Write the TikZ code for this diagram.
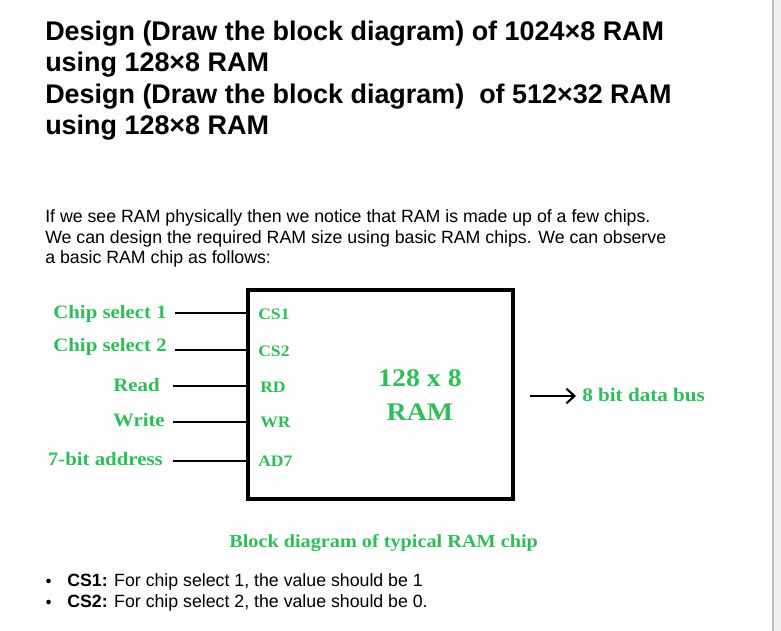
\documentclass[tikz,border=0pt]{standalone}
\usepackage{fontspec}
\setmainfont{Liberation Sans}
\newfontfamily\grfont[FakeStretch=1.1]{Liberation Serif}
\usetikzlibrary{arrows.meta}
\definecolor{labgreen}{RGB}{46,190,88}
\definecolor{pagebg}{RGB}{253,253,253}
\definecolor{sidebg}{RGB}{240,240,240}
\definecolor{sideline}{RGB}{190,190,190}
\tikzset{
  title/.style={anchor=base west, inner sep=0pt, font=\fontsize{20.2}{24}\selectfont\bfseries},
  para/.style={anchor=base west, inner sep=0pt, font=\fontsize{13.3}{15}\selectfont},
  bul/.style={anchor=base west, inner sep=0pt, font=\fontsize{13.3}{15}\selectfont},
  glabel/.style={anchor=base east, inner sep=0pt, text=labgreen, font=\grfont\fontsize{14.2}{17}\selectfont\bfseries},
  pin/.style={anchor=base west, inner sep=0pt, text=labgreen, font=\grfont\fontsize{12}{14}\selectfont\bfseries},
  wire/.style={line width=1.8pt},
}
\begin{document}
\begin{tikzpicture}[x=0.75pt,y=-0.75pt]
\useasboundingbox (0,0) rectangle (781,631);
\fill[pagebg] (0,0) rectangle (773,631);
\fill[sidebg] (773,0) rectangle (781,631);
\draw[sideline, line width=0.8pt] (773,0) -- (773,631);
% title
\node[title] (t1) at (45,41) {Design (Draw the block diagram) of 1024×8 RAM};
\node[title] (t2) at (45,72) {using 128×8 RAM};
\node[title] (t3) at (45,104) {Design (Draw the block diagram)\ \ of 512×32 RAM};
\node[title] (t4) at (45,135) {using 128×8 RAM};
% paragraph
\node[para] (p1) at (45,222) {If we see RAM physically then we notice that RAM is made up of a few chips.};
\node[para] (p2) at (45,243) {We can design the required RAM size using basic RAM chips. We can observe};
\node[para] (p3) at (45,263) {a basic RAM chip as follows:};
% box
\draw[line width=2.8pt] (248,290) rectangle (513,499);
% pins
\node[pin] (cs1) at (258,319) {CS1};
\node[pin] (cs2) at (258,356) {CS2};
\node[pin] (rd)  at (260,392) {RD};
\node[pin] (wr)  at (260,427) {WR};
\node[pin] (ad7) at (258,466) {AD7};
% left labels
\node[glabel] (l1) at (167,318) {Chip select 1};
\node[glabel] (l2) at (167,351) {Chip select 2};
\node[glabel] (l3) at (160,391) {Read};
\node[glabel] (l4) at (165,426) {Write};
\node[glabel] (l5) at (163,465) {7-bit address};
% wires
\coordinate (w1) at (248,313);
\coordinate (w2) at (248,350);
\coordinate (w3) at (248,386);
\coordinate (w4) at (248,422);
\coordinate (w5) at (248,461);
\draw[wire] (175,313) -- (w1);
\draw[wire] (175,350) -- (w2);
\draw[wire] (173,386) -- (w3);
\draw[wire] (173,422) -- (w4);
\draw[wire] (173,461) -- (w5);
% center text
\node[inner sep=0pt, text=labgreen, font=\grfont\fontsize{19}{22}\selectfont\bfseries, align=center] (ram) at (420,395) {128 x 8\\[3pt]RAM};
% output
\node[anchor=base west, inner sep=0pt, text=labgreen, font=\grfont\fontsize{14.4}{17}\selectfont\bfseries] (bus) at (582,401) {8 bit data bus};
\coordinate (a0) at (530,396);
\coordinate (a1) at (576,396);
\draw[wire, -{Straight Barb[length=6pt,width=11pt,line width=1.6pt]}] (a0) -- (a1);
% caption
\node[anchor=base west, inner sep=0pt, text=labgreen, font=\grfont\fontsize{13.8}{16}\selectfont\bfseries] (cap) at (229,547) {Block diagram of typical RAM chip};
% bullets
\node[bul] (b1) at (67,586) {\textbf{CS1:} For chip select 1, the value should be 1};
\node[bul] (b2) at (67,607) {\textbf{CS2:} For chip select 2, the value should be 0.};
\fill (48.5,581) circle (2.3);
\fill (48.5,602) circle (2.3);
\end{tikzpicture}
\end{document}
